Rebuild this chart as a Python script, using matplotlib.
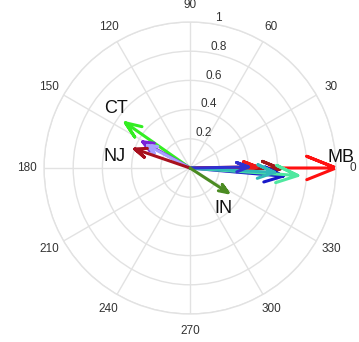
import numpy as np
import matplotlib
matplotlib.use("Agg")
import matplotlib.pyplot as plt

# arrow data: magnitude and angle (degrees)
mags   = [1.00, 0.62, 0.46, 0.64, 0.74, 0.58, 0.40, 0.54, 0.37, 0.33, 0.40, 0.31]
angles = [0.0, -0.5, 1.0, -5.0, -4.0, -3.0, 1.0, 145.0, 151.0, 152.0, 161.0, 327.0]
colors = ["#ff1010", "#a01818", "#ee1a1a", "#1818c8", "#50e8a0", "#30b8b8",
          "#3030d0", "#33ee22", "#7a22d8", "#a8a0ff", "#a8101e", "#4b8b22"]

labels = ["CT", "NJ", "IN", "MB"]
label_r = [0.65, 0.52, 0.36, 1.04]
label_a = [141.0, 171.0, 310.0, 4.0]

r_ticks = [0.2, 0.4, 0.6, 0.8, 1.0]
r_ticklabels = ["0.2", "0.4", "0.6", "0.8", "1"]
theta_ticks = list(range(0, 360, 30))

plt.rcParams['font.family'] = ['Liberation Sans', 'DejaVu Sans']

fig = plt.figure(figsize=(3.59, 3.42), dpi=100)
R = 146
ax = fig.add_axes([(190 - R) / 359, (342 - 168 - R) / 342, 2 * R / 359, 2 * R / 342],
                  projection='polar')

for m, a, c in zip(mags, angles, colors):
    t = np.deg2rad(a)
    # arrow in cartesian (MATLAB compass style)
    xx = np.array([0, 1, 0.8, 1, 0.8])
    yy = np.array([0, 0, 0.08, 0, -0.08])
    X = m * (xx * np.cos(t) - yy * np.sin(t))
    Y = m * (xx * np.sin(t) + yy * np.cos(t))
    th = np.arctan2(Y, X)
    rr = np.hypot(X, Y)
    th[0] = t
    ax.plot(th, rr, color=c, lw=2.2, solid_capstyle='round', solid_joinstyle='round')

for lab, r, a in zip(labels, label_r, label_a):
    ax.text(np.deg2rad(a), r, lab, fontsize=13, color='#111111', ha='center', va='center')

ax.set_ylim(0, 1.0)
ax.set_yticks(r_ticks)
ax.set_yticklabels(r_ticklabels, fontsize=8.5, color='#333333')
ax.set_rlabel_position(80)
ax.set_xticks(np.deg2rad(theta_ticks))
ax.set_xticklabels([str(t) for t in theta_ticks], fontsize=8.5, color='#333333')
ax.tick_params(axis='x', pad=1.5)
ax.grid(True, color='#e2e2e2', lw=1.0)
ax.spines['polar'].set_color('#e2e2e2')
ax.spines['polar'].set_linewidth(1.0)
ax.set_facecolor('white')

fig.savefig("out.png", dpi=100, facecolor='white')
